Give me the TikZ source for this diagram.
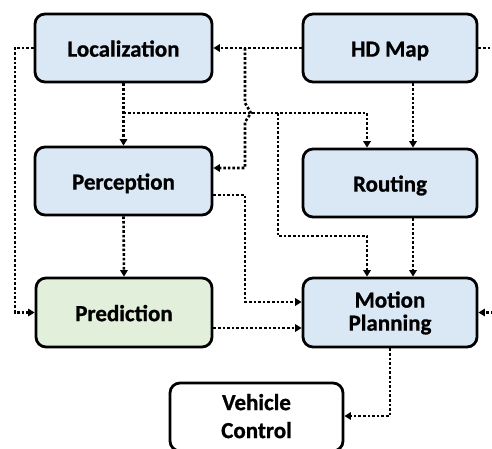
\documentclass[tikz,border=0pt]{standalone}
\usepackage{fontspec}
\setmainfont{Carlito}[BoldFeatures={FakeBold=0.8}]
\usetikzlibrary{arrows.meta}
\definecolor{boxblue}{HTML}{DAE7F5}
\definecolor{boxgreen}{HTML}{E2EFDA}
\newcommand{\lbl}[3]{\fontsize{23}{#1}\selectfont\bfseries\raisebox{#2}[\height][\depth]{\begin{tabular}{@{}c@{}}#3\end{tabular}}}
\tikzset{
  box/.style={draw=black, line width=2.8pt, rounded corners=10pt, minimum width=174pt, minimum height=68pt, inner sep=0pt, align=center, text=black},
  conn/.style={line width=2.6pt, dash pattern=on 2.6pt off 2pt, -{Triangle[length=6.5pt,width=7.5pt]}}
}
\begin{document}
\begin{tikzpicture}[x=1pt,y=-1pt]
\useasboundingbox (0,0) rectangle (492,449);
\clip (0,0) rectangle (492,449);
\node[box, fill=boxblue, minimum width=177pt] (loc) at (123.5,48) {\lbl{23pt}{-4pt}{Localization}};
\node[box, fill=boxblue] (hd) at (390,48) {\lbl{23pt}{-4pt}{HD Map}};
\node[box, fill=boxblue, minimum width=177pt] (per) at (123.5,181) {\lbl{23pt}{-4pt}{Perception}};
\node[box, fill=boxblue] (rou) at (390,183) {\lbl{23pt}{-4pt}{Routing}};
\node[box, fill=boxgreen, minimum width=176pt, minimum height=69pt] (pre) at (124,312.5) {\lbl{23pt}{-4pt}{Prediction}};
\node[box, fill=boxblue, minimum height=69pt] (mp) at (390,312.5) {\lbl{23pt}{-2pt}{Motion\\Planning}};
\node[box, fill=white, minimum width=173pt] (vc) at (256.5,417) {\lbl{28pt}{-1.5pt}{Vehicle\\Control}};
\coordinate (xa) at (15,0);
\coordinate (xr) at (510,0);
% Localization -> Prediction (left loop)
\draw[conn] (loc.west) -- (loc.west -| xa) -- (xa |- pre.west) -- (pre.west);
% HD Map -> Localization
\draw[conn] (hd.west) -- (loc.east);
% HD Map branch -> Perception (with hop)
\coordinate (h1) at (245,48);
\coordinate (h2) at (245,103);
\coordinate (h3) at (251,113);
\coordinate (h4) at (245,122);
\coordinate (h5) at (245,168);
\draw[conn] (h1) -- (h2) -- (h3) -- (h4) -- (h5) -- (per.east |- h5);
% Localization -> Perception
\draw[conn] (loc.south) -- (per.north);
% Localization -> Routing
\coordinate (b1) at (123.5,113);
\coordinate (b2) at (367,113);
\draw[conn] (b1) -- (b2) -- (b2 |- rou.north);
% Localization -> Motion planning
\coordinate (c1) at (278,113);
\coordinate (c2) at (278,236);
\coordinate (c3) at (367,236);
\draw[conn] (c1) -- (c2) -- (c3) -- (c3 |- mp.north);
% HD Map -> Routing
\draw[conn] (hd.south -| 413,0) -- (rou.north -| 413,0);
% Routing -> Motion Planning
\draw[conn] (rou.south -| 413,0) -- (mp.north -| 413,0);
% Perception -> Prediction
\draw[conn] (per.south) -- (pre.north);
% Perception -> Motion Planning
\coordinate (d1) at (212,195);
\coordinate (d2) at (245,195);
\coordinate (d3) at (245,302);
\draw[conn] (per.east |- d1) -- (d2) -- (d3) -- (mp.west |- d3);
% Prediction -> Motion Planning
\coordinate (e1) at (212,328);
\draw[conn] (pre.east |- e1) -- (mp.west |- e1);
% HD Map -> Motion Planning (right loop)
\draw[conn] (hd.east) -- (hd.east -| xr) -- (xr |- mp.east) -- (mp.east);
% Motion Planning -> Vehicle Control
\coordinate (f1) at (390,416);
\draw[conn] (mp.south) -- (f1) -- (vc.east |- f1);
\end{tikzpicture}
\end{document}
